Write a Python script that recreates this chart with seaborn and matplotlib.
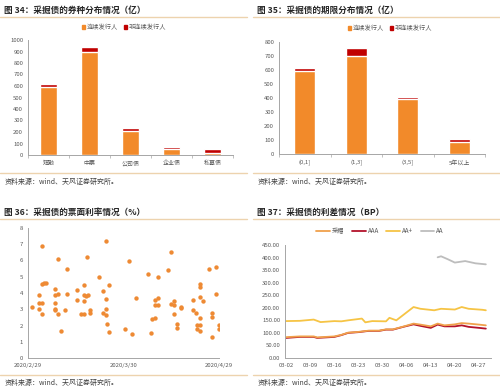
import matplotlib

matplotlib.use("Agg")

import matplotlib.pyplot as plt
import matplotlib.dates as mdates
import matplotlib.ticker as mticker
import numpy as np
import pandas as pd
import seaborn as sns
from matplotlib.lines import Line2D
from matplotlib.patches import Patch


# ---- 图34 券种分布（亿）
TYPE_CATS = ["短融", "中票", "公司债", "企业债", "私募债"]
TYPE_CONT = [587, 892, 212, 52, 20]
TYPE_NONCONT = [29, 44, 21, 18, 32]

# ---- 图35 期限分布（亿）
TERM_CATS = ["(0,1]", "(1,3]", "(3,5]", "5年以上"]
TERM_CONT = [591, 700, 392, 88]
TERM_NONCONT = [26, 60, 16, 19]

# ---- 图36 票面利率（%）, 距 2020/2/29 的天数
RATE_DAY = [1.3, 3.4, 3.4, 3.6, 4.4, 4.4, 4.4, 4.4, 5.1, 5.5,
            8.4, 8.4, 8.4, 8.4, 8.6, 9.3, 9.5, 9.5, 10.3, 11.6,
            12.4, 12.4, 15.5, 15.5, 16.6, 17.5, 17.5, 17.7, 17.7, 18.2,
            18.4, 18.7, 19.5, 19.5, 22.4, 23.5, 23.7, 24.5, 24.5, 24.5,
            24.5, 24.7, 25.6, 25.6, 30.5, 31.7, 32.7, 33.8, 37.7, 38.7,
            38.9, 39.8, 39.8, 39.8, 40.8, 40.8, 40.8, 44.0, 45.0, 45.0,
            46.0, 46.0, 46.0, 46.9, 46.9, 48.0, 48.0, 51.9, 51.9, 52.9,
            53.2, 53.2, 54.0, 54.0, 54.0, 54.0, 54.0, 54.0, 55.1, 56.8,
            57.9, 57.9, 57.9, 59.0, 59.0, 60.0, 60.0]
RATE_PCT = [3.16, 3.90, 3.04, 3.38, 3.38, 6.91, 4.55, 2.70, 4.60, 4.60,
            4.27, 3.90, 3.38, 3.04, 2.97, 3.96, 6.07, 2.70, 1.68, 2.97,
            5.50, 3.92, 4.18, 3.57, 2.70, 4.47, 3.86, 3.49, 2.70, 3.80,
            6.20, 3.86, 2.97, 2.77, 4.98, 4.10, 2.77, 7.18, 3.65, 3.04,
            2.67, 2.09, 4.51, 1.60, 1.78, 5.95, 1.50, 3.71, 5.19, 1.56,
            2.42, 2.46, 3.59, 3.28, 4.98, 3.69, 3.28, 5.42, 6.50, 3.32,
            3.49, 3.28, 2.70, 2.09, 1.85, 3.14, 3.08, 3.55, 2.97, 2.77,
            2.05, 1.78, 4.57, 4.35, 3.73, 2.05, 1.68, 2.44, 3.49, 5.50,
            2.77, 2.52, 1.29, 5.60, 3.96, 2.05, 1.78]

# ---- 图37 利差（BP）
AAP_DATES = ["2020-03-02", "2020-03-06", "2020-03-10", "2020-03-12", "2020-03-16",
             "2020-03-18", "2020-03-20", "2020-03-24", "2020-03-25", "2020-03-27",
             "2020-03-31", "2020-04-01", "2020-04-03", "2020-04-08", "2020-04-10",
             "2020-04-14", "2020-04-16", "2020-04-20", "2020-04-22", "2020-04-24",
             "2020-04-28", "2020-04-29"]
AAP_VALS = [147, 148, 153, 143, 147, 146, 150, 157, 142, 147,
            146, 160, 150, 203, 196, 190, 196, 193, 203, 196, 192, 190]
AAA_DATES = ["2020-03-02", "2020-03-06", "2020-03-10", "2020-03-11", "2020-03-16",
             "2020-03-18", "2020-03-20", "2020-03-23", "2020-03-26", "2020-03-29",
             "2020-03-31", "2020-04-02", "2020-04-05", "2020-04-08", "2020-04-10",
             "2020-04-13", "2020-04-15", "2020-04-17", "2020-04-20", "2020-04-22",
             "2020-04-24", "2020-04-27", "2020-04-29"]
AAA_VALS = [80, 84, 84, 80, 84, 91, 100, 103, 108, 108,
            113, 113, 124, 134, 128, 120, 133, 126, 126, 130, 124, 120, 117]
MINE_DATES = ["2020-03-02", "2020-03-06", "2020-03-10", "2020-03-11", "2020-03-16",
              "2020-03-18", "2020-03-20", "2020-03-23", "2020-03-26", "2020-03-29",
              "2020-03-31", "2020-04-02", "2020-04-05", "2020-04-08", "2020-04-10",
              "2020-04-13", "2020-04-15", "2020-04-17", "2020-04-20", "2020-04-22",
              "2020-04-24", "2020-04-27", "2020-04-29"]
MINE_VALS = [83, 86, 86, 82, 86, 92, 101, 104, 109, 109,
             114, 114, 125, 137, 133, 126, 137, 130, 134, 139, 137, 133, 130]
AA_DATES = ["2020-04-15", "2020-04-16", "2020-04-18", "2020-04-20", "2020-04-23",
            "2020-04-26", "2020-04-29"]
AA_VALS = [401, 405, 393, 380, 386, 377, 373]

LEGEND_BAR = ["连续发行人", "非连续发行人"]
LEGEND_LINE = ["采掘", "AAA", "AA+", "AA"]

ORANGE = "#F28A2A"
RED = "#C00000"
TICK_C = "#595959"
SPINE_C = "#A6A6A6"
SEP_C = "#EDD3AE"
W, H = 500, 391

sns.set_theme(style="white")
plt.rcParams["font.family"] = ["Noto Sans CJK SC", "DejaVu Sans"]

fig = plt.figure(figsize=(W / 100, H / 100), dpi=100)


def px_axes(left, top, right, bottom):
    return fig.add_axes([left / W, 1 - bottom / H, (right - left) / W, (bottom - top) / H])


def fig_text(x, y, s, **kw):
    fig.text(x / W, 1 - y / H, s, va="center", **kw)


def fig_line(x0, x1, y):
    fig.add_artist(Line2D([x0 / W, x1 / W], [1 - y / H, 1 - y / H],
                          transform=fig.transFigure, color=SEP_C, lw=1.0))


def style_axes(ax):
    for side in ["top", "right"]:
        ax.spines[side].set_visible(False)
    for side in ["left", "bottom"]:
        ax.spines[side].set_color(SPINE_C)
        ax.spines[side].set_linewidth(0.7)
    ax.tick_params(axis="both", labelsize=4.3, colors=SPINE_C, labelcolor=TICK_C,
                   length=2, width=0.5, pad=1.5)
    ax.set_xlabel("")
    ax.set_ylabel("")


def panel_frame(x0, x1, title, title_y, sep_top, sep_bot, src_y):
    fig_text(x0 + 4, title_y, title, fontsize=6.2, fontweight="bold", color="#262626")
    fig_line(x0, x1, sep_top)
    fig_line(x0, x1, sep_bot)
    fig_text(x0 + 5, src_y, "资料来源：wind、天风证券研究所。", fontsize=5.0, color="#404040")


def stacked_bars(ax, cats, cont, noncont, width, ymax, legend_xy):
    total = [a + b for a, b in zip(cont, noncont)]
    sns.barplot(x=cats, y=total, color=RED, saturation=1, width=width, ax=ax)
    sns.barplot(x=cats, y=cont, color=ORANGE, saturation=1, width=width, ax=ax)
    ax.set_xlim(-0.5, len(cats) - 0.5)
    ax.set_ylim(0, ymax)
    ax.set_yticks(np.arange(0, ymax + 1, 100))
    style_axes(ax)
    # category labels without tick marks, small marks on the category boundaries
    ax.xaxis.set_major_locator(mticker.FixedLocator(range(len(cats))))
    ax.xaxis.set_major_formatter(mticker.FixedFormatter(cats))
    ax.xaxis.set_minor_locator(mticker.FixedLocator(np.arange(-0.5, len(cats), 1.0)))
    ax.xaxis.set_minor_formatter(mticker.NullFormatter())
    ax.tick_params(axis="x", which="major", length=0, pad=4)
    ax.tick_params(axis="x", which="minor", length=2, width=0.5, colors=SPINE_C, bottom=True)
    handles = [Patch(color=ORANGE), Patch(color=RED)]
    fig.legend(handles, LEGEND_BAR, loc="center", bbox_to_anchor=(legend_xy[0] / W, 1 - legend_xy[1] / H),
               ncol=2, frameon=False, fontsize=4.5, handlelength=0.5, handleheight=0.5,
               handletextpad=0.3, columnspacing=1.0, labelcolor=TICK_C)


# 图34
ax1 = px_axes(28, 40, 233, 155)
stacked_bars(ax1, TYPE_CATS, TYPE_CONT, TYPE_NONCONT, 0.41, 1000, (124, 27))
panel_frame(0, 247, "图 34：采掘债的券种分布情况（亿）", 10, 17, 173, 182)

# 图35
ax2 = px_axes(279, 42, 485, 154)
stacked_bars(ax2, TERM_CATS, TERM_CONT, TERM_NONCONT, 0.40, 800, (390, 28))
panel_frame(253, 500, "图 35：采掘债的期限分布情况（亿）", 10, 17, 173, 182)

# 图36
ax3 = px_axes(28, 228, 219, 358)
rate_dates = pd.Timestamp("2020-02-29") + pd.to_timedelta(RATE_DAY, unit="D")
sns.scatterplot(x=rate_dates, y=RATE_PCT, color="#EE8A34", s=10, linewidth=0, ax=ax3)
ax3.set_xlim(pd.Timestamp("2020-02-29"), pd.Timestamp("2020-04-29"))
ax3.set_ylim(0, 8)
ax3.set_yticks(range(0, 9))
tick_days = pd.to_datetime(["2020-02-29", "2020-03-30", "2020-04-29"])
ax3.set_xticks(tick_days)
ax3.set_xticklabels(["2020/2/29", "2020/3/30", "2020/4/29"])
style_axes(ax3)
panel_frame(0, 247, "图 36：采掘债的票面利率情况（%）", 212, 219, 375, 383)

# 图37
ax4 = px_axes(285, 245, 491, 358)
series = [
    (LEGEND_LINE[1], AAA_DATES, AAA_VALS, "#B3122B"),
    (LEGEND_LINE[0], MINE_DATES, MINE_VALS, "#F0A04B"),
    (LEGEND_LINE[2], AAP_DATES, AAP_VALS, "#F6C445"),
    (LEGEND_LINE[3], AA_DATES, AA_VALS, "#BDBDBD"),
]
colors = {}
for name, dates, vals, col in series:
    sns.lineplot(x=pd.to_datetime(dates), y=vals, color=col, lw=1.3, ax=ax4)
    colors[name] = col
ax4.set_xlim(pd.Timestamp("2020-03-01 16:00"), pd.Timestamp("2020-04-30 12:00"))
ax4.set_ylim(0, 450)
ax4.set_yticks(np.arange(0, 451, 50))
ax4.yaxis.set_major_formatter(mticker.FormatStrFormatter("%.2f"))
ax4.set_xticks(pd.date_range("2020-03-02", "2020-04-27", freq="7D"))
ax4.xaxis.set_major_formatter(mdates.DateFormatter("%m-%d"))
style_axes(ax4)
handles = [Line2D([], [], color=colors[n], lw=1.3) for n in LEGEND_LINE]
fig.legend(handles, LEGEND_LINE, loc="center", bbox_to_anchor=(380 / W, 1 - 231 / H),
           ncol=4, frameon=False, fontsize=4.5, handlelength=2.2, handletextpad=0.3,
           columnspacing=1.2, labelcolor=TICK_C)
panel_frame(253, 500, "图 37：采掘债的利差情况（BP）", 212, 219, 375, 383)

fig.savefig("out.png", dpi=100, facecolor="white")
